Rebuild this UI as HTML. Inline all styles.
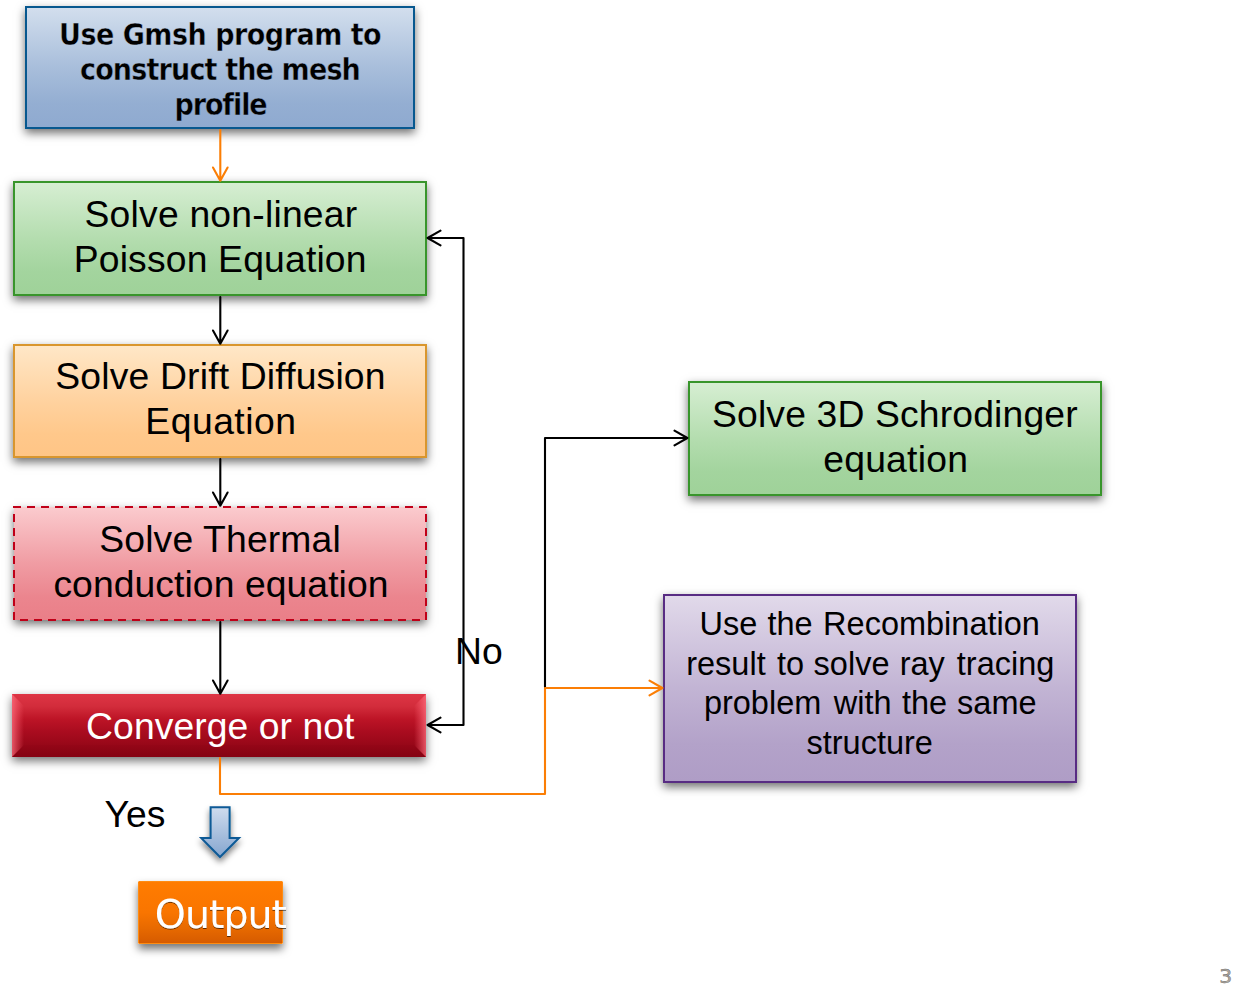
<!DOCTYPE html>
<html lang="en">
<head>
<meta charset="utf-8">
<title>Simulation flow chart</title>
<style>
html,body{margin:0;padding:0;background:#fff;}
body{width:1246px;height:996px;position:relative;overflow:hidden;font-family:"Liberation Sans",Arial,sans-serif;}
.box{position:absolute;box-sizing:border-box;background-origin:border-box;box-shadow:0 4px 9px rgba(0,0,0,.57);}
#b1{left:25px;top:6px;width:390px;height:123px;border:2px solid #07588f;background:linear-gradient(#d2deed,#a8bedb 50%,#94aed2 80%,#8faad0);}
#b2{left:13px;top:181px;width:414px;height:115px;border:2px solid #38952b;background:linear-gradient(#d6eed2,#b4ddaf 50%,#a3d49e 80%,#9fd299);}
#b3{left:13px;top:344px;width:414px;height:114px;border:2px solid #d9962e;background:linear-gradient(#ffe7c7,#ffd29f 50%,#ffc88b 80%,#ffc586);}
#b4{left:14px;top:507px;width:412px;height:113px;background:linear-gradient(#fbcbce,#f09ca3 50%,#eb858e 80%,#ea7f88);}
#b5{left:12px;top:694px;width:414px;height:63px;background:linear-gradient(#de3545,#d22c3b 20%,#bd1426 40%,#a90c1f 60%,#870312);box-shadow:0 4px 9px rgba(0,0,0,.55);}
#b6{left:138px;top:881px;width:145px;height:63px;border:1px solid #ff8c12;border-radius:1px;background:linear-gradient(#ff7c00,#f97500 50%,#e86a00 75%,#d65b00);box-shadow:0 5px 9px rgba(0,0,0,.55);}
#b7{left:688px;top:381px;width:414px;height:115px;border:2px solid #38952b;background:linear-gradient(#d6eed2,#b4ddaf 50%,#a3d49e 80%,#9fd299);}
#b8{left:663px;top:594px;width:414px;height:189px;border:2px solid #582c83;background:linear-gradient(#e1d9ea,#c2b4d4 50%,#b3a2c9 80%,#af9dc6);}
svg{position:absolute;left:0;top:0;font-family:"Liberation Sans",Arial,sans-serif;fill:#000;}
.tb{font-family:"DejaVu Sans Condensed","DejaVu Sans","Liberation Sans",sans-serif;font-weight:bold;stroke:url(#gb);stroke-width:.4px;}
.tv{font-family:"DejaVu Sans","Liberation Sans",sans-serif;}
</style>
</head>
<body>
<div class="box" id="b1"></div>
<div class="box" id="b2"></div>
<div class="box" id="b3"></div>
<div class="box" id="b4"></div>
<div class="box" id="b5"></div>
<div class="box" id="b6"></div>
<div class="box" id="b7"></div>
<div class="box" id="b8"></div>
<svg width="1246" height="996" viewBox="0 0 1246 996">
<defs>
<linearGradient id="ga" x1="0" y1="0" x2="0" y2="1"><stop offset="0" stop-color="#cfdcee"/><stop offset="1" stop-color="#86a6cf"/></linearGradient>
<linearGradient id="gl" x1="0" y1="0" x2="1" y2="0"><stop offset="0" stop-color="#ff7080" stop-opacity=".75"/><stop offset=".45" stop-color="#ff6878" stop-opacity=".4"/><stop offset="1" stop-color="#ff6070" stop-opacity="0"/></linearGradient>
<linearGradient id="gr" x1="1" y1="0" x2="0" y2="0"><stop offset="0" stop-color="#ff7080" stop-opacity=".75"/><stop offset=".45" stop-color="#ff6878" stop-opacity=".4"/><stop offset="1" stop-color="#ff6070" stop-opacity="0"/></linearGradient>
<filter id="fs" x="-40%" y="-30%" width="180%" height="180%"><feGaussianBlur in="SourceAlpha" stdDeviation="3.2"/><feOffset dy="4"/><feComponentTransfer><feFuncA type="linear" slope=".5"/></feComponentTransfer><feMerge><feMergeNode/><feMergeNode in="SourceGraphic"/></feMerge></filter>
<filter id="ts" x="-10%" y="-20%" width="120%" height="150%"><feGaussianBlur in="SourceAlpha" stdDeviation=".7"/><feOffset dx=".3" dy=".6"/><feComponentTransfer><feFuncA type="linear" slope=".6"/></feComponentTransfer><feMerge><feMergeNode/><feMergeNode in="SourceGraphic"/></feMerge></filter>
<linearGradient id="gb" gradientUnits="userSpaceOnUse" x1="0" y1="6" x2="0" y2="129"><stop offset="0" stop-color="#d2deed"/><stop offset=".5" stop-color="#a8bedb"/><stop offset=".8" stop-color="#94aed2"/><stop offset="1" stop-color="#8faad0"/></linearGradient>
</defs>
<!-- dashed outline of thermal box -->
<rect x="14" y="507" width="412" height="113" fill="none" stroke="#c00018" stroke-width="2" stroke-dasharray="8 6" stroke-dashoffset="1"/>
<!-- bevel of converge box -->
<path d="M12 694L24 706V745L12 757Z" fill="url(#gl)"/>
<path d="M426 694L414 706V745L426 757Z" fill="url(#gr)"/>
<path d="M12 757L24 745H414L426 757Z" fill="#5a000a" fill-opacity=".05"/>
<!-- block arrow -->
<path d="M210.6 807.3H229.6V838H239L220 857L201.2 838H210.6Z" fill="url(#ga)" stroke="#0b5a96" stroke-width="2" stroke-linejoin="miter" filter="url(#fs)"/>
<!-- connectors -->
<g fill="none" stroke="#000" stroke-width="2.1" stroke-linecap="round" stroke-linejoin="round">
<path d="M220.3 297V343M213 330.5L220.3 343.7L227.6 330.5"/>
<path d="M220.3 459V505M213 492.5L220.3 505.7L227.6 492.5"/>
<path d="M220.3 622V693M213 680.5L220.3 693.7L227.6 680.5"/>
<path d="M428 238H463.5V725H428M440.5 230.7L427.6 238L440.5 245.3M440.5 717.7L427.6 725L440.5 732.3"/>
<path d="M545 687V438H687M674.5 430.7L687.4 438L674.5 445.3"/>
</g>
<g fill="none" stroke="#fb7e05" stroke-width="2.1" stroke-linecap="round" stroke-linejoin="round">
<path d="M220.3 130V180M213 167.5L220.3 180.7L227.6 167.5"/>
<path d="M220 758V794H545V688H662M649.5 680.7L662.4 688L649.5 695.3"/>
</g>
<!-- text -->
<text x="59" y="45" font-size="30" class="tb" letter-spacing="-0.5">Use Gmsh program to</text>
<text x="80" y="80" font-size="30" class="tb" letter-spacing="-0.84">construct the mesh</text>
<text x="174.4" y="115" font-size="30" class="tb" letter-spacing="-1.07">profile</text>
<text x="84.5" y="227" font-size="37.3" letter-spacing="0.21">Solve non-linear</text>
<text x="73.7" y="272" font-size="37.3" letter-spacing="0.17">Poisson Equation</text>
<text x="55.3" y="389" font-size="37.3" letter-spacing="0.17">Solve Drift Diffusion</text>
<text x="145.3" y="434" font-size="37.3" letter-spacing="0.49">Equation</text>
<text x="99.3" y="552" font-size="37.3" letter-spacing="0.14">Solve Thermal</text>
<text x="53.4" y="597" font-size="37.3" letter-spacing="0.07">conduction equation</text>
<text x="86.1" y="739" font-size="37.3" letter-spacing="0.06" fill="#fff">Converge or not</text>
<text x="104.6" y="827" font-size="37.3">Yes</text>
<text x="455" y="664" font-size="37.3">No</text>
<text x="712" y="427" font-size="37.3" letter-spacing="0.15">Solve 3D Schrodinger</text>
<text x="823.2" y="472" font-size="37.3" letter-spacing="0.23">equation</text>
<g font-size="32.5">
<text y="634.5"><tspan x="699.6">Use</tspan> <tspan x="767.4">the</tspan> <tspan x="823.1">Recombination</tspan></text>
<text y="674.5"><tspan x="686.2">result</tspan> <tspan x="777.1">to</tspan> <tspan x="813.6">solve</tspan> <tspan x="899.7">ray</tspan> <tspan x="956.8">tracing</tspan></text>
<text y="714"><tspan x="703.9">problem</tspan> <tspan x="833.8">with</tspan> <tspan x="901.9">the</tspan> <tspan x="957.1">same</tspan></text>
<text y="754"><tspan x="806.5">structure</tspan></text>
</g>
<text class="tv" x="154.8" y="927.8" font-size="39.5" letter-spacing="-1" fill="#fff" filter="url(#ts)">Output</text>
<text class="tv" x="1219.3" y="983" font-size="20.3" fill="#b3aca2" stroke="#6a6a6a" stroke-width=".5">3</text>
</svg>
</body>
</html>
